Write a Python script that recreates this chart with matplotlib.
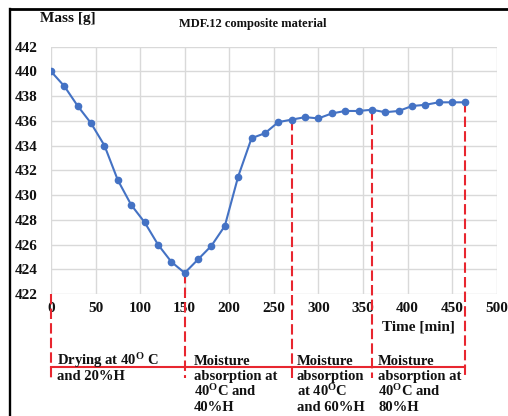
"""Mass of the MDF.12 composite during drying and moisture absorption."""

import matplotlib
matplotlib.use("Agg")
import matplotlib.pyplot as plt
from matplotlib.lines import Line2D
from matplotlib.transforms import blended_transform_factory

# Measured mass every 15 min.
TIME = [0, 15, 30, 45, 60, 75, 90, 105, 120, 135, 150, 165, 180, 195, 210,
        225, 240, 255, 270, 285, 300, 315, 330, 345, 360, 375, 390, 405, 420,
        435, 450, 465]
MASS = [440.0, 438.8, 437.2, 435.8, 434.0, 431.2, 429.2, 427.8, 426.0, 424.6,
        423.7, 424.8, 425.9, 427.5, 431.5, 434.6, 435.0, 435.9, 436.1, 436.3,
        436.2, 436.6, 436.8, 436.8, 436.9, 436.7, 436.8, 437.2, 437.3, 437.5,
        437.5, 437.5]

# Phase boundaries (red dashed markers) and the phase captions.
BOUNDS = [0, 150, 270, 360, 465]
BOUND_TOPS = [422.0, 423.7, 436.1, 436.9, 437.5]
PHASE_X = [6.7, 160.4, 275.7, 366.9]
PHASE_TEXT = [
    "Drying at 40$^{\\mathrm{O}}$ C\nand 20%H",
    "Moisture\nabsorption at\n40$^{\\mathrm{O}}$C and\n40%H",
    "Moisture\nabsorption\nat 40$^{\\mathrm{O}}$C\nand 60%H",
    "Moisture\nabsorption at\n40$^{\\mathrm{O}}$C and\n80%H",
]
X_TICKS = [0, 50, 100, 150, 200, 250, 300, 350, 400, 450, 500]
Y_TICKS = [422, 424, 426, 428, 430, 432, 434, 436, 438, 440, 442]

BLUE = "#4472c4"
RED = "#e8262f"
GRID = "#d9d9d9"
INK = "#111111"
W, H = 508, 416

SERIF = "Liberation Serif"
plt.rcParams["font.family"] = [SERIF, "DejaVu Serif"]
plt.rcParams["font.weight"] = "bold"
plt.rcParams["mathtext.fontset"] = "custom"
for k in ("rm", "it", "bf"):
    plt.rcParams[f"mathtext.{k}"] = f"{SERIF}:bold"

fig = plt.figure(figsize=(W / 100, H / 100), dpi=100, facecolor="white")
ax = fig.add_axes([0.1004, 0.2933, 0.8773, 0.5945])

ax.plot(TIME, MASS, color=BLUE, lw=1.5, marker="o", ms=4.5, zorder=3)

ax.set_xlim(0, 500)
ax.set_ylim(422, 442)
ax.set_xticks(X_TICKS)
ax.set_yticks(Y_TICKS)
ax.grid(True, color=GRID, lw=1)
ax.set_axisbelow(True)
for side in ax.spines.values():
    side.set_visible(False)
ax.tick_params(length=0, labelsize=11, colors=INK)
ax.tick_params(axis="x", pad=5.5)
ax.tick_params(axis="y", pad=9.5)
for lab in ax.get_xticklabels() + ax.get_yticklabels():
    lab.set_fontweight("bold")

# Phase markers hang below the axis.
BOTTOM = 415.2
for x, top in zip(BOUNDS, BOUND_TOPS):
    ax.plot([x, x], [top, BOTTOM], color=RED, lw=1.5, dashes=(5, 2),
            clip_on=False, zorder=2)
ax.plot([BOUNDS[0], BOUNDS[-1]], [416.1, 416.1], color=RED, lw=1.5,
        clip_on=False, zorder=2)

# Captions: x in data units, baselines in figure pixels (one text per line).
cap_tr = blended_transform_factory(ax.transData, fig.transFigure)
for x, txt in zip(PHASE_X, PHASE_TEXT):
    for i, line in enumerate(txt.split("\n")):
        ax.text(x, 1 - (365 + 15.3 * i) / H, line, transform=cap_tr,
                ha="left", va="baseline", fontsize=10.5, color=INK,
                fontweight="bold", clip_on=False)

fig.text(67.5 / W, 1 - 18.5 / H, "Mass [g]", ha="center", va="center",
         fontsize=11, fontweight="bold", color=INK)
fig.text(253 / W, 1 - 23.5 / H, "MDF.12 composite material", ha="center",
         va="center", fontsize=9, fontweight="bold", color=INK)
fig.text(418 / W, 1 - 327 / H, "Time [min]", ha="center", va="center",
         fontsize=11, fontweight="bold", color=INK)

# Black frame on the left and top edges.
fig.add_artist(Line2D([10 / W, 10 / W], [0, 1 - 8.5 / H],
                      transform=fig.transFigure, color="black", lw=1.7))
fig.add_artist(Line2D([10 / W, 1], [1 - 8.5 / H, 1 - 8.5 / H],
                      transform=fig.transFigure, color="black", lw=2))

fig.savefig("out.png", dpi=100, facecolor="white")
